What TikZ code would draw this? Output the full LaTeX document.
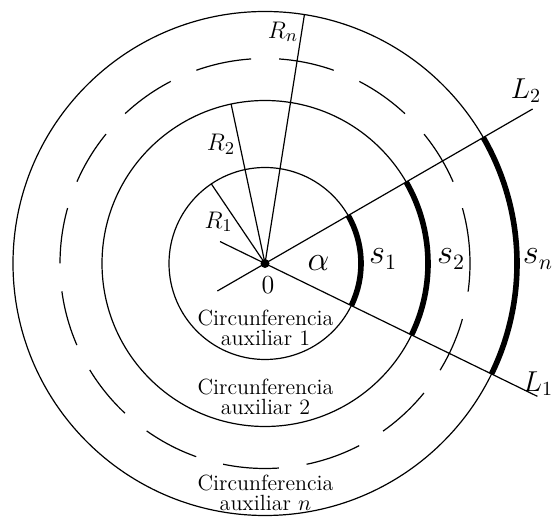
\documentclass[tikz,border=0pt]{standalone}
\begin{document}
\begin{tikzpicture}[x=0.5pt,y=0.5pt,
  base/.style={line width=0.6pt},
  dashcirc/.style={line width=0.6pt, dash pattern=on 28 off 14},
  arcline/.style={line width=2.8pt},
  rlabel/.style={inner sep=0pt, font=\fontsize{13}{15}\selectfont},
  llabel/.style={inner sep=0pt, font=\fontsize{14}{16}\selectfont},
  slabel/.style={inner sep=0pt, font=\fontsize{16}{18}\selectfont},
  caption/.style={align=center, inner sep=0pt, font=\fontsize{11}{10}\selectfont}]
\useasboundingbox (0,0) rectangle (555,518);
\coordinate (O) at (265,254.5);
% circles
\draw[base] (O) circle (96);
\draw[base] (O) circle (163);
\draw[dashcirc] (O) circle (205);
\draw[base] (O) circle (252);
% lines L1, L2
\path (O) ++(210:55) coordinate (L2a);
\path (O) ++(30:309) coordinate (L2b);
\path (O) ++(154:50) coordinate (L1a);
\path (O) ++(-26:303) coordinate (L1b);
\draw[base] (L2a) -- (L2b);
\draw[base] (L1a) -- (L1b);
% radii
\path (O) ++(124:96) coordinate (R1e);
\path (O) ++(102:163) coordinate (R2e);
\path (O) ++(81:252) coordinate (Rne);
\draw[base] (O) -- (R1e);
\draw[base] (O) -- (R2e);
\draw[base] (O) -- (Rne);
% thick arcs
\draw[arcline] (O) ++(-26:96) arc (-26:30:96);
\draw[arcline] (O) ++(-26:163) arc (-26:30:163);
\draw[arcline] (O) ++(-26:252) arc (-26:30:252);
% center dot
\node[circle, fill, inner sep=0pt, minimum size=4.5pt] (dot) at (O) {};
% labels
\node[rlabel] (r1) at (218.6,296) {$R_1$};
\node[rlabel] (r2) at (221,373.5) {$R_2$};
\node[rlabel] (rn) at (283,486) {$R_n$};
\node[llabel] (l2) at (526,427) {$L_2$};
\node[llabel] (l1) at (538,134) {$L_1$};
\node[slabel] (s1) at (383,259) {$s_1$};
\node[slabel] (s2) at (451,259) {$s_2$};
\node[slabel] (sn) at (538,259) {$s_n$};
\node[slabel] (alpha) at (318.6,255) {$\alpha$};
\node[rlabel] (zero) at (268,233) {0};
\node[caption] (c1) at (265.5,190) {Circunferencia\\auxiliar 1};
\node[caption] (c2) at (265.5,121) {Circunferencia\\auxiliar 2};
\node[caption] (cn) at (265.5,25) {Circunferencia\\auxiliar $n$};
\end{tikzpicture}
\end{document}
